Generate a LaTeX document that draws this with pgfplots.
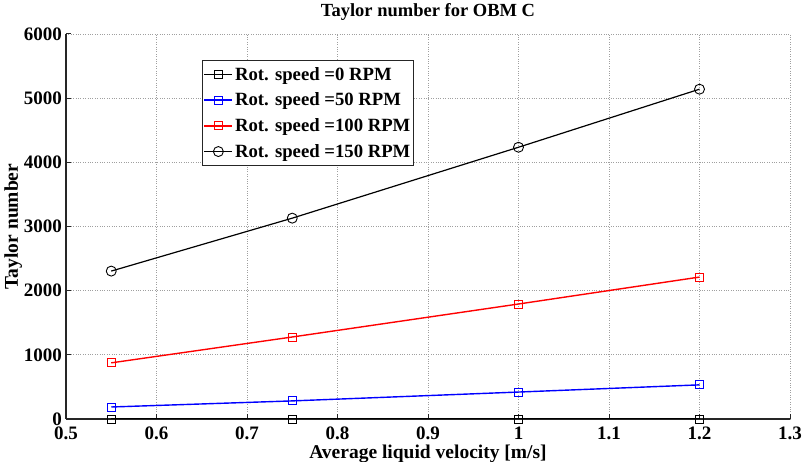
\documentclass[border=0pt]{standalone}
\usepackage{fontspec}
\setmainfont{Liberation Serif}
\usepackage{pgfplots}
\pgfplotsset{compat=1.18}
\begin{document}
\begin{tikzpicture}
\begin{axis}[
  scale only axis,
  width=724pt, height=385pt,
  xmin=0.5, xmax=1.3, ymin=0, ymax=6000,
  xtick={0.5,0.6,...,1.3},
  ytick={0,1000,...,6000},
  xticklabels={0.5,0.6,0.7,0.8,0.9,1,1.1,1.2,1.3},
  yticklabel style={/pgf/number format/1000 sep={}},
  /pgf/number format/assume math mode=true,
  ticklabel style={font=\fontsize{19}{21}\selectfont\bfseries},
  xticklabel style={anchor=base, yshift=-21pt},
  yticklabel style={anchor=east, inner sep=0pt, xshift=-4pt},
  axis x line*=bottom, axis y line*=left,
  tick align=inside,
  major tick length=5pt,
  tick style={line width=1pt, black!85},
  axis line style={line width=1.4pt, black!85, -},
  grid=major,
  grid style={dotted, gray!75, line width=0.7pt},
  every axis title shift=0pt,
  title={\textbf{Taylor number for OBM C}},
  title style={font=\fontsize{18.5}{20}\selectfont, at={(0.5,1.0442)}, anchor=base, yshift=0pt},
  xlabel={\textbf{Average liquid velocity [m/s]}},
  ylabel={\textbf{Taylor number}},
  label style={font=\fontsize{19.5}{21}\selectfont},
  xlabel style={at={(0.5,-0.1039)}, anchor=base},
  ylabel style={at={(-0.0663,0.5)}, anchor=base, rotate=0},
  legend style={at={(0.1878,0.9325)}, anchor=north west,
    font=\fontsize{18.7}{20}\selectfont\bfseries,
    draw=black!85, line width=1.4pt, inner sep=1pt,
    nodes={inner ysep=5.6pt}, legend cell align=left},
  legend image code/.code={\draw[mark repeat=2,mark phase=2,#1] plot coordinates {(0pt,0pt) (14pt,0pt) (28pt,0pt)};},
]
\addplot[color=black, line width=1.2pt, mark=square, mark size=4pt, mark options={line width=0.9pt}]
  coordinates {(0.55,0) (0.75,0) (1.0,0) (1.2,0)};
\addlegendentry{Rot. speed =0 RPM}
\addplot[color=blue, line width=1.4pt, mark=square, mark size=4pt, mark options={line width=0.9pt}]
  coordinates {(0.55,187) (0.75,282) (1.0,420) (1.2,532)};
\addlegendentry{Rot. speed =50 RPM}
\addplot[color=red, line width=1.4pt, mark=square, mark size=4pt, mark options={line width=0.9pt}]
  coordinates {(0.55,875) (0.75,1278) (1.0,1792) (1.2,2212)};
\addlegendentry{Rot. speed =100 RPM}
\addplot[color=black, line width=1.2pt, mark=o, mark size=5pt, mark options={line width=0.9pt}]
  coordinates {(0.55,2305) (0.75,3130) (1.0,4235) (1.2,5140)};
\addlegendentry{Rot. speed =150 RPM}
\end{axis}
\pgfresetboundingbox
\path[use as bounding box] (-66pt,-43pt) rectangle (736pt,419pt);
\end{tikzpicture}
\end{document}
